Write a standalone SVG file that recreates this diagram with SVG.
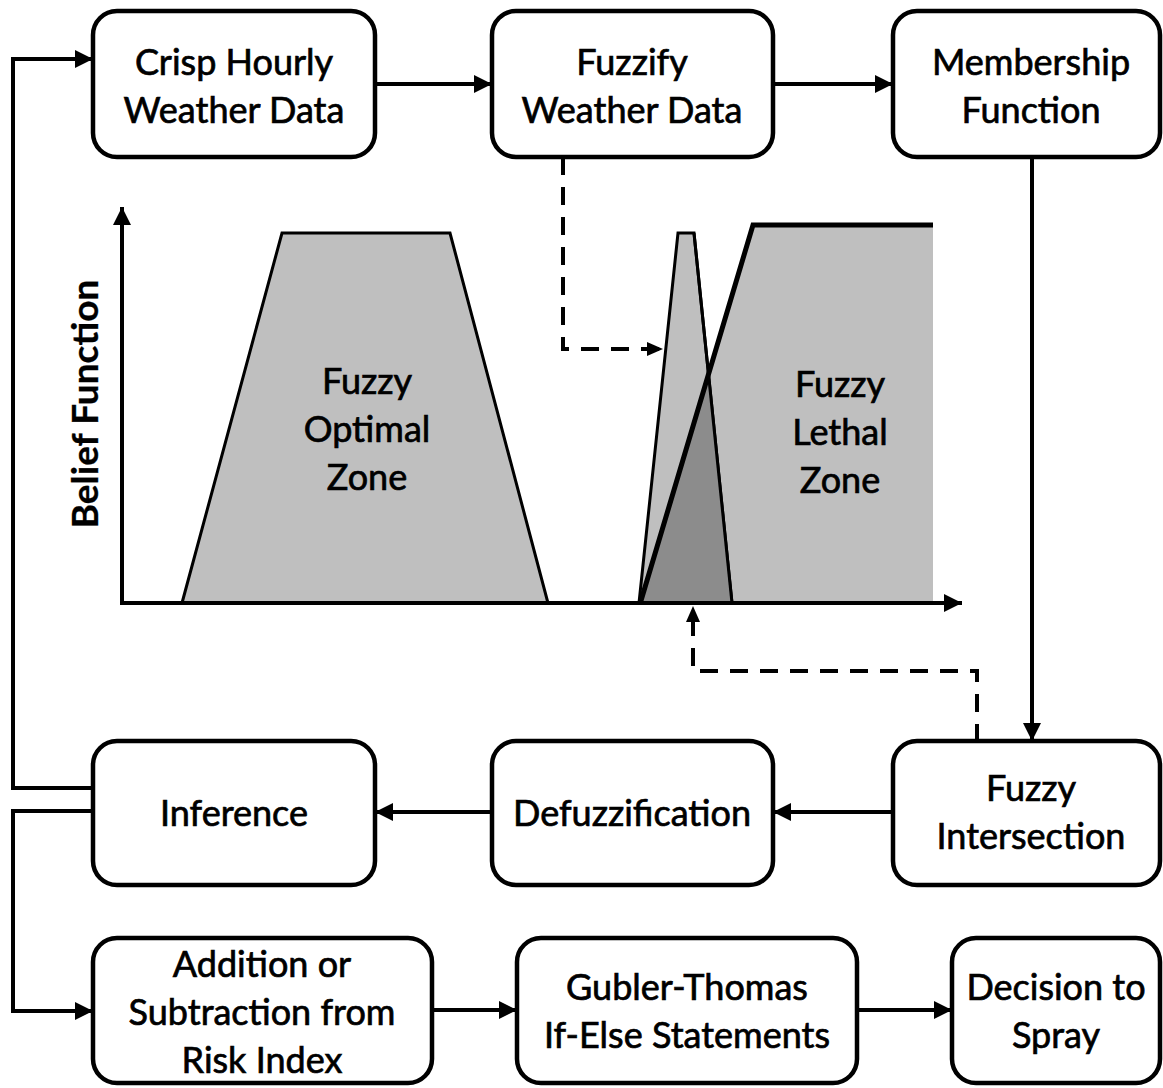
<svg xmlns="http://www.w3.org/2000/svg" width="1163" height="1088" viewBox="0 0 1163 1088">
<defs>
<marker id="arr" markerUnits="userSpaceOnUse" markerWidth="20" markerHeight="18" refX="18" refY="9" orient="auto">
<path d="M0,0 L18,9 L0,18 z" fill="#000"/>
</marker>
<marker id="arrs" markerUnits="userSpaceOnUse" markerWidth="18" markerHeight="16" refX="16" refY="8" orient="auto">
<path d="M0,1 L16,8 L0,15 z" fill="#000"/>
</marker>
<style>
.box{fill:#fff;stroke:#000;stroke-width:4.5}
.t{font-family:Lato,"Liberation Sans",sans-serif;font-size:36px;fill:#000;stroke:#000;stroke-width:0.7;text-anchor:middle}
.c{fill:none;stroke:#000;stroke-width:4;marker-end:url(#arr)}
.d{fill:none;stroke:#000;stroke-width:4;stroke-dasharray:18 12;marker-end:url(#arrs)}
.zone{fill:#bfbfbf;stroke:#000;stroke-width:3;stroke-linejoin:miter}
</style>
</defs>
<rect width="1163" height="1088" fill="#fff"/>

<g id="chart">
<polygon class="zone" points="182,603 282,233 450,233 548,603"/>
<polygon points="640,603 753,225 933,225 933,603" fill="#bfbfbf"/>
<polygon class="zone" points="639,603 678,233 694,233 732,603"/>
<polygon points="641,603 708.5,374 731,603" fill="#8c8c8c"/>
<line x1="694" y1="233" x2="732" y2="603" stroke="#000" stroke-width="3"/>
<polyline points="640,604 753,225 933,225" fill="none" stroke="#000" stroke-width="5"/>
<line x1="122" y1="605" x2="122" y2="207" stroke="#000" stroke-width="4" marker-end="url(#arr)"/>
<line x1="120" y1="603" x2="962" y2="603" stroke="#000" stroke-width="4" marker-end="url(#arr)"/>
<text class="t" x="367" y="394">Fuzzy</text>
<text class="t" x="367" y="442">Optimal</text>
<text class="t" x="367" y="490">Zone</text>
<text class="t" x="840" y="397">Fuzzy</text>
<text class="t" x="840" y="445">Lethal</text>
<text class="t" x="840" y="493">Zone</text>
<text class="t" x="0" y="0" font-weight="bold" style="font-size:37px;stroke-width:0.3" transform="translate(98,404) rotate(-90)">Belief Function</text>
</g>

<g id="connectors">
<line class="c" x1="375" y1="84" x2="492" y2="84"/>
<line class="c" x1="773" y1="84" x2="893" y2="84"/>
<line class="c" x1="1032" y1="157" x2="1032" y2="741"/>
<line class="c" x1="893" y1="812" x2="773" y2="812"/>
<line class="c" x1="492" y1="812" x2="375" y2="812"/>
<polyline class="c" points="93,788 13,788 13,59 93,59"/>
<polyline class="c" points="93,811 13,811 13,1011 93,1011"/>
<line class="c" x1="432" y1="1010" x2="517" y2="1010"/>
<line class="c" x1="857" y1="1010" x2="952" y2="1010"/>
<polyline class="d" points="563,157 563,349 663,349"/>
<polyline class="d" points="977,742 977,671 693,671 693,606"/>
</g>

<g id="crisp">
<rect class="box" x="93" y="11" width="282" height="146" rx="24"/>
<text class="t" x="234" y="75">Crisp Hourly</text>
<text class="t" x="234" y="123">Weather Data</text>
</g>
<g id="fuzzify">
<rect class="box" x="492" y="11" width="281" height="146" rx="24"/>
<text class="t" x="632" y="75">Fuzzify</text>
<text class="t" x="632" y="123">Weather Data</text>
</g>
<g id="membership">
<rect class="box" x="893" y="11" width="267" height="146" rx="24"/>
<text class="t" x="1031" y="75">Membership</text>
<text class="t" x="1031" y="123">Function</text>
</g>
<g id="inference">
<rect class="box" x="93" y="741" width="282" height="144" rx="24"/>
<text class="t" x="234" y="826">Inference</text>
</g>
<g id="defuzzification">
<rect class="box" x="492" y="741" width="281" height="144" rx="24"/>
<text class="t" x="632" y="826">Defuzzification</text>
</g>
<g id="intersection">
<rect class="box" x="893" y="741" width="267" height="144" rx="24"/>
<text class="t" x="1031" y="801">Fuzzy</text>
<text class="t" x="1031" y="849">Intersection</text>
</g>
<g id="addition">
<rect class="box" x="93" y="938" width="339" height="145" rx="24"/>
<text class="t" x="262" y="977">Addition or</text>
<text class="t" x="262" y="1025">Subtraction from</text>
<text class="t" x="262" y="1073">Risk Index</text>
</g>
<g id="gubler">
<rect class="box" x="517" y="938" width="340" height="145" rx="24"/>
<text class="t" x="687" y="1000">Gubler-Thomas</text>
<text class="t" x="687" y="1048">If-Else Statements</text>
</g>
<g id="decision">
<rect class="box" x="952" y="938" width="208" height="145" rx="24"/>
<text class="t" x="1056" y="1000">Decision to</text>
<text class="t" x="1056" y="1048">Spray</text>
</g>
</svg>
